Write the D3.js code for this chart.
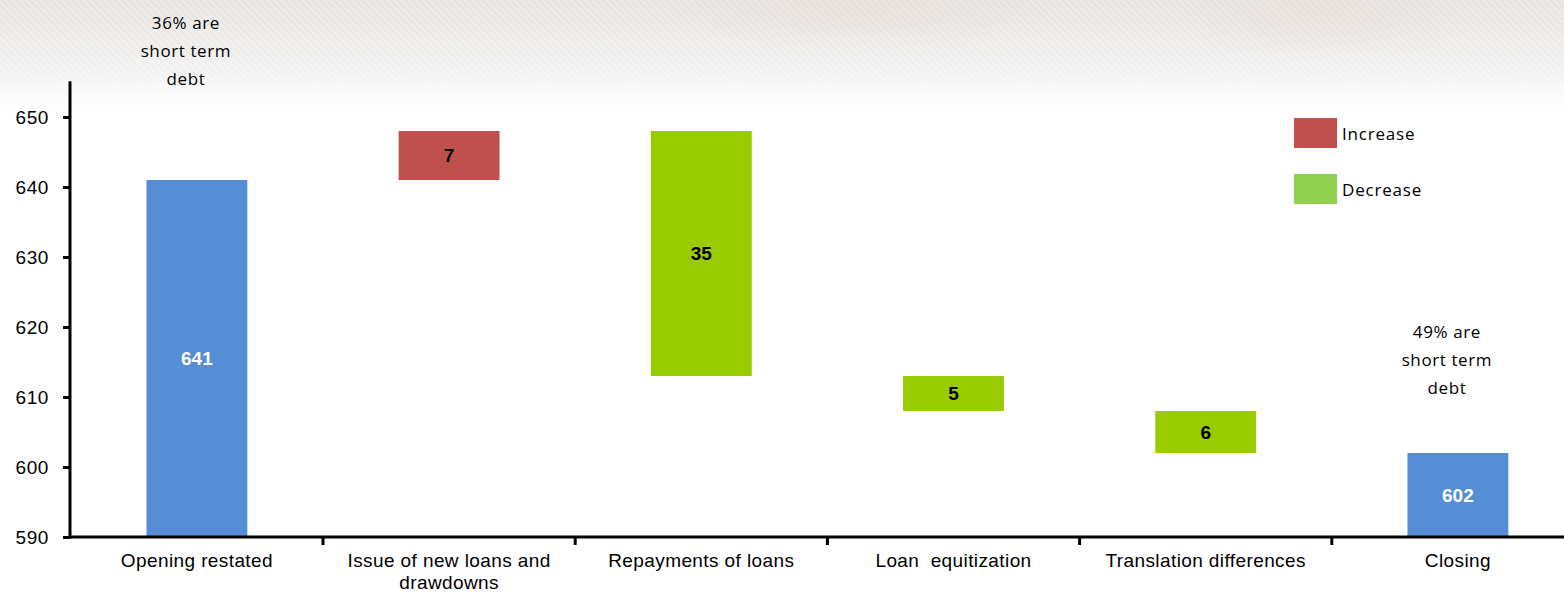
<!DOCTYPE html>
<html>
<head>
<meta charset="utf-8">
<script src="https://cdn.jsdelivr.net/npm/d3@7"></script>
<style>
  html, body { margin: 0; padding: 0; background: #ffffff; }
  svg { display: block; }
</style>
</head>
<body>
<svg id="chart" width="1564" height="592"></svg>
<script>
// Net debt bridge: opening balance, movements, closing balance
const categories = [
  "Opening restated",
  "Issue of new loans and drawdowns",
  "Repayments of loans",
  "Loan  equitization",
  "Translation differences",
  "Closing"
];
const stepKinds = ["total", "increase", "decrease", "decrease", "decrease", "total"];
const stepValues = [641, 7, 35, 5, 6, 602];
const yTickValues = [590, 600, 610, 620, 630, 640, 650];
const legendLabels = ["Increase", "Decrease"];
const notes = [
  { at: "Opening restated", lines: ["36% are", "short term", "debt"] },
  { at: "Closing", lines: ["49% are", "short term", "debt"] }
];

const colors = {
  total: "#558ed5",
  increase: "#c0504d",
  decrease: "#99cc00",
  legendIncrease: "#c0504d",
  legendDecrease: "#92d050"
};

const svg = d3.select("#chart");
const W = 1564, H = 592;

// soft textured header band
const defs = svg.append("defs");
const stripes = defs.append("pattern")
  .attr("id", "stripes").attr("patternUnits", "userSpaceOnUse")
  .attr("width", 5).attr("height", 5)
  .attr("patternTransform", "rotate(-45)");
stripes.append("rect").attr("width", 2).attr("height", 5).attr("fill", "#dcd9d6");
const fadeGrad = defs.append("linearGradient").attr("id", "fade").attr("x1", 0).attr("y1", 0).attr("x2", 0).attr("y2", 1);
fadeGrad.append("stop").attr("offset", "0%").attr("stop-color", "#ece9e6");
fadeGrad.append("stop").attr("offset", "70%").attr("stop-color", "#f6f6f6");
fadeGrad.append("stop").attr("offset", "100%").attr("stop-color", "#ffffff");
const maskGrad = defs.append("linearGradient").attr("id", "maskGrad").attr("x1", 0).attr("y1", 0).attr("x2", 0).attr("y2", 1);
maskGrad.append("stop").attr("offset", "0%").attr("stop-color", "#fff").attr("stop-opacity", 0.9);
maskGrad.append("stop").attr("offset", "70%").attr("stop-color", "#fff").attr("stop-opacity", 0.35);
maskGrad.append("stop").attr("offset", "100%").attr("stop-color", "#fff").attr("stop-opacity", 0);
defs.append("mask").attr("id", "bandMask")
  .append("rect").attr("width", W).attr("height", 95).attr("fill", "url(#maskGrad)");
const glow = defs.append("radialGradient").attr("id", "glow");
glow.append("stop").attr("offset", "0%").attr("stop-color", "#ebe0da").attr("stop-opacity", 0.7);
glow.append("stop").attr("offset", "100%").attr("stop-color", "#ebe0da").attr("stop-opacity", 0);

svg.append("rect").attr("width", W).attr("height", 110).attr("fill", "url(#fade)");
svg.append("ellipse").attr("cx", 1320).attr("cy", 15).attr("rx", 160).attr("ry", 45).attr("fill", "url(#glow)");
svg.append("ellipse").attr("cx", 860).attr("cy", 10).attr("rx", 220).attr("ry", 40).attr("fill", "url(#glow)");
svg.append("rect").attr("width", W).attr("height", 95).attr("fill", "url(#stripes)").attr("mask", "url(#bandMask)").attr("opacity", 0.5);

// scales
const x = d3.scaleBand()
  .domain(categories)
  .range([70.8, 70.8 + 6 * 252.2])
  .paddingInner(0.6)
  .paddingOuter(0.3);
const y = d3.scaleLinear().domain([590, 650]).range([537, 117]);

// waterfall layout
let running = 0;
const steps = categories.map((c, i) => {
  const kind = stepKinds[i], v = stepValues[i];
  let lo, hi;
  if (kind === "total") { lo = 590; hi = v; running = v; }
  else if (kind === "increase") { lo = running; hi = running + v; running = hi; }
  else { hi = running; lo = running - v; running = lo; }
  return { cat: c, kind, value: v, lo, hi };
});

const bars = svg.append("g");
bars.selectAll("rect").data(steps).join("rect")
  .attr("x", d => x(d.cat))
  .attr("width", x.bandwidth())
  .attr("y", d => y(d.hi))
  .attr("height", d => y(d.lo) - y(d.hi))
  .attr("fill", d => colors[d.kind]);

bars.selectAll("text").data(steps).join("text")
  .attr("x", d => x(d.cat) + x.bandwidth() / 2)
  .attr("y", d => (y(d.lo) + y(d.hi)) / 2)
  .attr("dy", "0.36em")
  .attr("text-anchor", "middle")
  .attr("font-family", "'Liberation Sans', Arial, sans-serif")
  .attr("font-weight", "bold")
  .attr("font-size", 19)
  .attr("fill", d => d.kind === "total" ? "#ffffff" : "#000000")
  .text(d => d.value);

// y axis
const yAxis = svg.append("g").attr("transform", "translate(70,0)")
  .call(d3.axisLeft(y).tickValues(yTickValues).tickSize(7).tickPadding(14).tickFormat(d3.format("d")));
yAxis.select(".domain").remove();
yAxis.selectAll(".tick line").attr("stroke", "#000").attr("stroke-width", 3);
yAxis.selectAll(".tick text")
  .attr("font-family", "'Liberation Sans', Arial, sans-serif")
  .attr("font-size", 19).attr("letter-spacing", 0.6).attr("fill", "#000");
svg.append("line").attr("x1", 70).attr("x2", 70).attr("y1", y(655.1)).attr("y2", 538.5)
  .attr("stroke", "#000").attr("stroke-width", 3);

// x axis
svg.append("line").attr("x1", 68.5).attr("x2", W).attr("y1", 537).attr("y2", 537)
  .attr("stroke", "#000").attr("stroke-width", 3);
const boundaries = d3.range(1, categories.length).map(i => x.range()[0] + i * x.step());
svg.append("g").selectAll("line").data(boundaries).join("line")
  .attr("x1", d => d).attr("x2", d => d).attr("y1", 537).attr("y2", 545)
  .attr("stroke", "#000").attr("stroke-width", 3);

// category labels, wrapped to the band
const catLabels = svg.append("g")
  .attr("font-family", "'Liberation Sans', Arial, sans-serif")
  .attr("font-size", 19).attr("fill", "#000").attr("text-anchor", "middle");
categories.forEach(c => {
  const cx = x(c) + x.bandwidth() / 2;
  const t = catLabels.append("text")
    .attr("x", cx)
    .attr("y", 567)
    .attr("letter-spacing", 0.4)
    .attr("xml:space", "preserve");
  const words = c.split(" ");
  const maxW = 235;
  let line = [];
  let tspan = t.append("tspan").attr("x", cx).attr("dy", 0);
  words.forEach(w => {
    line.push(w);
    tspan.text(line.join(" "));
    if (tspan.node().getComputedTextLength() > maxW && line.length > 1) {
      line.pop();
      tspan.text(line.join(" "));
      line = [w];
      tspan = t.append("tspan").attr("x", cx).attr("dy", 22).text(w);
    }
  });
});

// notes about short term share
const noteFont = "'Open Sans', Lato, sans-serif";
const noteBase = { "Opening restated": 29, "Closing": 338 };
notes.forEach(n => {
  const cx = x(n.at) + x.bandwidth() / 2 - 11;
  const t = svg.append("text")
    .attr("font-family", noteFont).attr("font-size", 17).attr("letter-spacing", 0.6)
    .attr("fill", "#000").attr("text-anchor", "middle");
  n.lines.forEach((l, i) => {
    t.append("tspan").attr("x", cx).attr("y", noteBase[n.at] + i * 28).text(l);
  });
});

// legend
const legend = svg.append("g").attr("transform", "translate(1294,118)");
const legendColors = [colors.legendIncrease, colors.legendDecrease];
legendLabels.forEach((lab, i) => {
  const g = legend.append("g").attr("transform", `translate(0,${i * 56})`);
  g.append("rect").attr("width", 43).attr("height", 30).attr("fill", legendColors[i]);
  g.append("text").attr("x", 48).attr("y", 22)
    .attr("font-family", noteFont).attr("font-size", 17).attr("letter-spacing", 0.8)
    .attr("fill", "#000").text(lab);
});
</script>
</body>
</html>
